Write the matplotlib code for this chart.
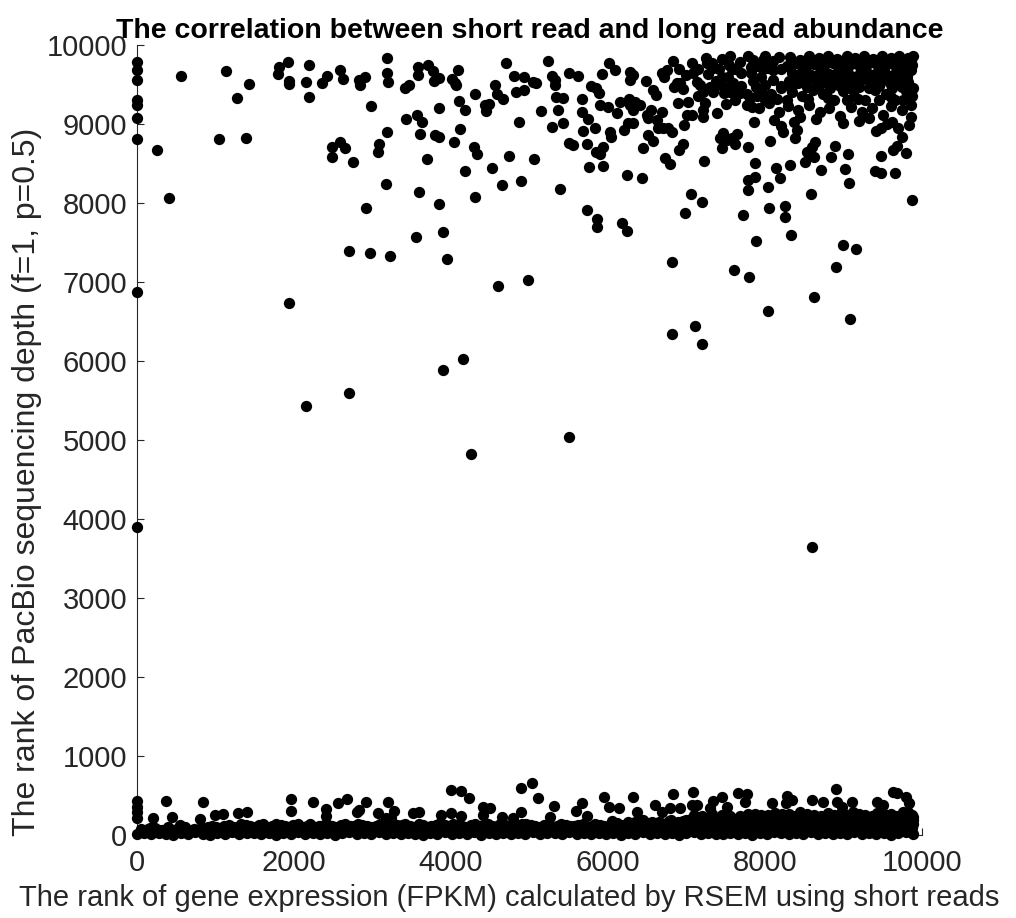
import matplotlib
matplotlib.use("Agg")
import matplotlib.pyplot as plt

# --- 상단 산점 (긴 read 순위가 높은 유전자) ---
upper_left = [
    (0, 9790), (0, 9684), (0, 9557), (0, 9304), (0, 9241), (0, 9076), (0, 8810),
    (0, 6873), (0, 3900),
    (260, 8671), (408, 8067), (561, 9612), (1049, 8810), (1138, 9671), (1270, 9333),
    (1393, 8823), (1427, 9502), (1796, 9637), (1809, 9726), (1924, 9781), (1930, 9548),
    (1930, 9506), (1932, 6730), (2153, 9527), (2187, 9747), (2187, 9346), (2357, 9515),
    (2420, 9612), (2484, 8713), (2484, 8578), (2590, 9684), (2628, 9574), (2590, 8776),
    (2654, 8700), (2701, 7397), (2752, 8515), (2824, 9557), (2841, 9494), (2909, 9599),
    (2921, 7932), (2968, 7363), (2985, 9224), (3066, 8650), (3079, 8747), (3176, 8236),
    (3180, 9831), (3180, 9650), (3202, 9536), (3180, 8895), (3219, 7325), (3418, 9460),
    (3469, 9494), (3427, 9063), (3563, 9110), (3631, 9030), (3584, 9726), (3584, 9620),
    (3601, 8869), (3597, 8139), (3558, 7570), (3690, 8553), (3703, 9747), (3766, 9671),
    (3783, 9544), (3843, 9578), (3800, 8857), (3843, 8831), (3843, 9198), (3851, 7983),
    (3898, 7629), (3953, 7291), (4008, 9566), (4051, 9523), (4085, 9688), (4064, 9494),
    (4034, 8776), (4119, 8932), (4106, 9295), (4178, 9177), (4183, 8409), (4289, 8713),
    (4336, 8616), (4306, 9380), (4306, 8080), (4433, 9241), (4488, 9249), (4450, 9169),
    (4527, 8443), (4565, 9494), (4582, 9380), (4658, 9312), (4595, 6945), (4654, 8228),
    (4705, 9768), (4743, 8591), (4803, 9612), (4824, 9401), (4926, 9426), (4866, 9030),
    (4892, 8275), (4934, 9599), (4985, 7025),
]

upper_mid = [
    (2150, 5430), (2700, 5600), (3900, 5880), (4150, 6020), (4250, 4820), (5500, 5040),
    (8600, 3640), (7200, 6220),
]

upper_right = [
    (5041, 9536), (5083, 9523), (5062, 8557), (5231, 9797), (5146, 9165), (5282, 9608),
    (5325, 9557), (5325, 9494), (5338, 9338), (5423, 9325), (5367, 9177), (5282, 8966),
    (5423, 9008), (5389, 8177), (5499, 9641), (5622, 9608), (5507, 8764), (5558, 8734),
    (5673, 9312), (5669, 9156), (5750, 9068), (5677, 8916), (5728, 8747), (5728, 7911),
    (5762, 8460), (5779, 9485), (5847, 9451), (5830, 8945), (5847, 8650), (5898, 8620),
    (5941, 8713), (5856, 7797), (5856, 7692), (5919, 9629), (5932, 8468), (5885, 9388),
    (5898, 9241), (6004, 9219), (6017, 9776), (6089, 9684), (6025, 8903), (6034, 8839),
    (6110, 9135), (6153, 9283), (6174, 7743), (6238, 7650), (6204, 8924), (6246, 8354),
    (6259, 9017), (6272, 9312), (6280, 9241), (6340, 9283), (6408, 9241), (6280, 9662),
    (6323, 9620), (6280, 9557), (6323, 9177), (6323, 9008), (6429, 8312), (6450, 8692),
    (6484, 9548), (6493, 9114), (6514, 9072), (6514, 8861), (6569, 8789), (6569, 9430),
    (6611, 9367), (6548, 9177), (6620, 9051), (6641, 8945), (6684, 9156), (6684, 9641),
    (6747, 9684), (6713, 9599), (6705, 8953), (6760, 8953), (6726, 8565), (6790, 8494),
    (6811, 7249), (6811, 8903), (6820, 6342), (6824, 9797), (6837, 9473), (6875, 9515),
    (6917, 9523), (6960, 9439), (6896, 9270), (6909, 8671), (6960, 8747), (6968, 8987),
    (6981, 7878), (7002, 9114), (7066, 9114), (7023, 9283), (7053, 8114), (7066, 9768),
    (7087, 9650), (7108, 6443), (7130, 9536), (7172, 9494), (7193, 8017), (7214, 9177),
    (7206, 9093), (7214, 9409), (7236, 9262), (7223, 8532), (7257, 9768), (7321, 9776),
    (7342, 9705), (7278, 9633), (7300, 9473), (7342, 9409), (7385, 9135), (7427, 8819),
    (7470, 8882), (7448, 8692), (7478, 9388), (7512, 8797), (7576, 8827), (7640, 8869),
    (7618, 8747), (7546, 9747), (7576, 9692), (7533, 9591), (7597, 9523), (7660, 9473),
    (7554, 9409), (7682, 9397), (7605, 7152), (7724, 7848), (7766, 9380), (7809, 9325),
    (7830, 9219), (7766, 9241), (7787, 8705), (7779, 8291), (7779, 8165), (7873, 8333),
    (7801, 7068), (7851, 9810), (7822, 9641), (7851, 9544), (7864, 9030), (7873, 8502),
    (7885, 7519), (7970, 9810), (8034, 8207), (8042, 9705), (8064, 8785), (8055, 7941),
    (8042, 6633), (8140, 8447), (8191, 8321), (8204, 8975), (8233, 8903), (8255, 7966),
    (8255, 7827), (8318, 8481), (8331, 7595), (8382, 8819), (8403, 8924), (8446, 9093),
    (8510, 8523), (8535, 8650), (8599, 8713), (8620, 8578), (8641, 8776), (8586, 8114),
    (8629, 6814), (8713, 8418), (8837, 8578), (8892, 8722), (8904, 7186), (8989, 7473),
    (9159, 7418), (9019, 8430), (9053, 8616), (9074, 8249), (9083, 6536), (9202, 9042),
    (9401, 8405), (9473, 8376), (9477, 8599), (9418, 8916), (9481, 8945), (9635, 8671),
    (9677, 8722), (9660, 8383), (9749, 8831), (9796, 8629), (9868, 8038), (9855, 9084),
    (9838, 8987), (9613, 9030),
]

# 오른쪽 위의 빽빽한 덩어리
upper_dense = [
    (8320, 9845), (8450, 9810), (8560, 9860), (8690, 9830), (8800, 9855), (8920, 9820),
    (9040, 9865), (9150, 9835), (9260, 9860), (9380, 9825), (9490, 9855), (9600, 9840),
    (9710, 9865), (9820, 9830), (9880, 9860),
    (8360, 9790), (8480, 9800), (8610, 9795), (8720, 9790), (8840, 9800), (8960, 9790),
    (9070, 9805), (9190, 9795), (9300, 9800), (9420, 9790), (9530, 9800), (9650, 9795),
    (9760, 9805), (9860, 9790),
    (8280, 9740), (8400, 9770), (8520, 9720), (8630, 9760), (8750, 9730), (8870, 9775),
    (8980, 9745), (9100, 9760), (9210, 9720), (9330, 9770), (9440, 9740), (9560, 9755),
    (9670, 9725), (9780, 9770), (9870, 9745),
    (8340, 9640), (8470, 9670), (8590, 9620), (8700, 9660), (8820, 9630), (8930, 9675),
    (9060, 9640), (9170, 9610), (9290, 9665), (9400, 9635), (9520, 9670), (9630, 9625),
    (9740, 9650), (9860, 9680),
    (8380, 9590), (8500, 9600), (8620, 9580), (8740, 9600), (8860, 9590), (8970, 9605),
    (9090, 9585), (9210, 9600), (9330, 9590), (9450, 9600), (9570, 9585), (9690, 9605),
    (9810, 9590),
    (8300, 9540), (8420, 9515), (8550, 9560), (8660, 9530), (8780, 9545), (8900, 9505),
    (9010, 9555), (9130, 9525), (9250, 9565), (9360, 9510), (9480, 9550), (9590, 9520),
    (9700, 9560), (9820, 9530),
    (8330, 9450), (8530, 9470), (8690, 9480), (8830, 9460), (8950, 9480), (9080, 9450),
    (9200, 9470), (9320, 9460), (9450, 9480), (9620, 9450), (9750, 9470), (9880, 9460),
    (7950, 9420), (8080, 9380), (8200, 9450), (8350, 9400), (8470, 9350), (8610, 9430),
    (8740, 9380), (8880, 9300), (9000, 9420), (9130, 9360), (9270, 9300), (9400, 9430),
    (9540, 9380), (9660, 9300), (9790, 9420), (9870, 9350),
    (8000, 9300), (8150, 9320), (8280, 9310), (8550, 9320), (8800, 9330), (9050, 9300),
    (9180, 9320), (9450, 9310), (9600, 9340), (9760, 9300),
    (7920, 9200), (8050, 9260), (8180, 9150), (8290, 9230), (8420, 9180), (8560, 9240),
    (8700, 9150), (8820, 9200), (8960, 9100), (9090, 9220), (9230, 9150), (9360, 9200),
    (9500, 9120), (9610, 9230), (9740, 9180), (9860, 9240),
    (8120, 9050), (8370, 9020), (8650, 9060), (8990, 9010), (9330, 9070), (9560, 9000),
    (9700, 8950),
    (7450, 9820), (7680, 9780), (7900, 9740), (8100, 9800), (8200, 9700), (7950, 9600),
    (8100, 9560), (8200, 9480), (7700, 9650), (7450, 9600), (8000, 9500), (7380, 9550),
    (7150, 9700), (7000, 9620), (6900, 9700),
    (8100, 9680), (7980, 9690), (7820, 9720), (7620, 9700), (7420, 9700), (7250, 9840),
    (7560, 9860), (7780, 9860), (8000, 9860), (8180, 9850),
    (7350, 9450), (7480, 9470), (7700, 9480), (7880, 9470), (7620, 9300), (7900, 9350),
    (7150, 9350), (7500, 9250),
]

# --- 하단 띠 (대부분의 유전자) ---
low_outliers = [
    (0, 435), (0, 359), (0, 295), (0, 211), (200, 211), (369, 430), (442, 224), (548, 127),
    (803, 203), (837, 418), (994, 253), (1100, 266), (1291, 274), (1397, 287), (1958, 452),
    (1958, 304), (2238, 414), (2408, 325), (2408, 241), (2565, 409), (2671, 452), (2798, 295),
    (2832, 316), (2913, 414), (3066, 274), (3172, 211), (3202, 414), (3278, 304), (3236, 211),
    (3520, 274), (3597, 295), (3873, 249), (4000, 570), (4123, 561), (4000, 274), (4123, 241),
    (4229, 465), (4412, 359), (4497, 338), (4412, 253), (4645, 224), (4794, 219), (4892, 599),
    (5036, 654), (4892, 295), (5113, 473), (5316, 367), (5261, 232), (5592, 304), (5665, 409),
    (5729, 241), (5949, 477), (6008, 359), (6144, 346), (6322, 477), (6365, 295), (6603, 376),
    (6684, 295), (6824, 515), (6790, 338), (7087, 549), (7066, 380), (7130, 380), (6917, 338),
    (7342, 435), (7448, 477), (7300, 338), (7660, 527), (7766, 519), (7745, 422), (7512, 359),
    (8085, 401), (8276, 494), (8340, 443), (8267, 401), (8594, 443), (8743, 422), (8904, 582),
    (8913, 422), (9104, 422), (8977, 359), (9423, 422), (9507, 380), (9635, 549), (9677, 527),
    (9796, 477), (9838, 409), (9825, 295), (9889, 190), (9868, 84),
]

band_row_a = [
    (0, 10), (90, 22), (180, 8), (280, 30), (370, 15), (460, 5), (560, 25), (650, 12),
    (740, 33), (840, 18), (930, 6), (1020, 28), (1120, 14), (1210, 35), (1300, 9), (1400, 20),
    (1490, 31), (1580, 11), (1680, 24), (1770, 4), (1860, 27), (1960, 16), (2050, 36),
    (2140, 8), (2240, 21), (2330, 13), (2420, 29), (2520, 6), (2610, 19), (2700, 34),
    (2800, 10), (2890, 23), (2980, 15), (3080, 32), (3170, 7), (3260, 26), (3360, 12),
    (3450, 30), (3540, 17), (3640, 5), (3730, 25), (3820, 14), (3920, 33), (4010, 9),
    (4100, 22), (4200, 18), (4290, 35), (4380, 6), (4480, 27), (4570, 13), (4660, 30),
    (4760, 10), (4850, 24), (4940, 16), (5040, 34), (5130, 7), (5220, 21), (5320, 29),
    (5410, 12), (5500, 36), (5600, 8), (5690, 25), (5780, 15), (5880, 31), (5970, 11),
    (6060, 23), (6160, 5), (6250, 28), (6340, 17), (6440, 33), (6530, 9), (6620, 26),
    (6720, 14), (6810, 30), (6900, 6), (7000, 22), (7090, 35), (7180, 12), (7280, 27),
    (7370, 18), (7460, 8), (7560, 31), (7650, 15), (7740, 24), (7840, 5), (7930, 29),
    (8020, 13), (8120, 34), (8210, 20), (8300, 9), (8400, 26), (8490, 16), (8580, 32),
    (8680, 7), (8770, 23), (8860, 11), (8960, 30), (9050, 18), (9140, 36), (9240, 8),
    (9330, 25), (9420, 14), (9520, 29), (9610, 6), (9700, 21), (9800, 33), (9880, 12),
]

band_row_b = [
    (45, 55), (135, 70), (230, 48), (320, 62), (415, 75), (510, 52), (600, 68), (700, 45),
    (790, 78), (885, 58), (975, 66), (1070, 50), (1165, 80), (1255, 60), (1350, 72),
    (1445, 47), (1535, 85), (1630, 63), (1720, 55), (1815, 77), (1910, 68), (2000, 50),
    (2095, 82), (2190, 61), (2285, 74), (2375, 56), (2470, 88), (2565, 64), (2655, 52),
    (2750, 79), (2845, 67), (2935, 58), (3030, 84), (3120, 49), (3215, 73), (3310, 62),
    (3405, 90), (3495, 55), (3590, 70), (3685, 48), (3775, 81), (3870, 65), (3965, 57),
    (4055, 86), (4150, 60), (4245, 75), (4335, 51), (4430, 83), (4525, 66), (4615, 58),
    (4710, 78), (4805, 62), (4895, 89), (4990, 54), (5085, 72), (5175, 64), (5270, 80),
    (5365, 50), (5455, 76), (5550, 67), (5645, 85), (5735, 59), (5830, 73), (5925, 55),
    (6015, 88), (6110, 63), (6205, 77), (6295, 52), (6390, 84), (6485, 69), (6575, 61),
    (6670, 90), (6765, 57), (6855, 79), (6950, 66), (7045, 74), (7135, 58), (7230, 87),
    (7325, 63), (7415, 80), (7510, 55), (7605, 76), (7695, 68), (7790, 89), (7885, 60),
    (7975, 82), (8070, 71), (8165, 56), (8255, 85), (8350, 64), (8445, 78), (8535, 59),
    (8630, 90), (8725, 67), (8815, 75), (8910, 62), (9005, 86), (9095, 70), (9190, 58),
    (9285, 83), (9375, 65), (9470, 79), (9565, 61), (9655, 88), (9750, 72), (9845, 66),
]

band_row_c = [
    (230, 90), (620, 80), (900, 95),
    (1000, 105), (1110, 120), (1220, 98), (1330, 135), (1440, 110), (1550, 128), (1660, 100),
    (1770, 140), (1880, 115), (1990, 125), (2100, 95), (2210, 138), (2320, 112), (2430, 130),
    (2540, 102), (2650, 145), (2760, 118), (2870, 127), (2980, 99), (3090, 136), (3200, 114),
    (3310, 124), (3420, 140), (3530, 104), (3640, 132), (3750, 117), (3860, 146), (3970, 108),
    (4080, 129), (4190, 97), (4300, 139), (4410, 121), (4520, 110), (4630, 143), (4740, 100),
    (4850, 126), (4960, 137), (5070, 112), (5180, 131), (5290, 103), (5400, 142), (5510, 119),
    (5620, 128), (5730, 98), (5840, 135), (5950, 116), (6060, 148), (6170, 125), (6280, 140),
    (6390, 113), (6500, 150), (6610, 132), (6720, 145), (6830, 120), (6940, 155), (7050, 138),
    (7160, 150), (7270, 128), (7380, 160), (7490, 142), (7600, 155), (7710, 130), (7820, 158),
    (7930, 140), (8040, 152), (8150, 135), (8260, 162), (8370, 145), (8480, 156), (8590, 132),
    (8700, 160), (8810, 148), (8920, 155), (9030, 138), (9140, 165), (9250, 145), (9360, 158),
    (9470, 136), (9580, 162), (9690, 150), (9800, 157), (9880, 140),
]

band_row_c2 = [
    (55, 70), (165, 85), (280, 62), (390, 95), (505, 78), (615, 100), (730, 72), (840, 88),
    (955, 110), (1060, 92), (1170, 130), (1280, 105), (1390, 122), (1500, 96), (1610, 135),
    (1720, 112), (1830, 128), (1940, 104), (2050, 140), (2160, 118), (2270, 100), (2380, 132),
    (2490, 115), (2600, 126), (2710, 108), (2820, 142), (2930, 120), (3040, 110), (3150, 133),
    (3260, 100), (3370, 128), (3480, 118), (3590, 145), (3700, 106), (3810, 130), (3920, 121),
    (4030, 138), (4140, 112), (4250, 126), (4360, 104), (4470, 140), (4580, 117), (4690, 130),
    (4800, 110), (4910, 145), (5020, 122), (5130, 100), (5240, 135), (5350, 115), (5460, 128),
    (5570, 108), (5680, 142), (5790, 120), (5900, 132), (6010, 112), (6120, 150), (6230, 130),
    (6340, 165), (6450, 140), (6560, 170), (6670, 150), (6780, 175), (6890, 160), (7000, 185),
    (7110, 170), (7220, 190), (7330, 175), (7440, 195), (7550, 180), (7660, 200), (7770, 185),
    (7880, 205), (7990, 188), (8100, 210), (8210, 192), (8320, 215), (8430, 195), (8540, 212),
    (8650, 198), (8760, 220), (8870, 200), (8980, 215), (9090, 195), (9200, 222), (9310, 205),
    (9420, 218), (9530, 200), (9640, 225), (9750, 208), (9860, 215),
]

band_row_d = [
    (6050, 175), (6250, 165), (6450, 185), (6650, 170), (6800, 195), (6950, 180), (7060, 205),
    (7170, 190), (7280, 215), (7390, 198), (7500, 220), (7610, 200), (7720, 225), (7830, 205),
    (7940, 218), (8050, 196), (8160, 228), (8270, 210), (8380, 222), (8490, 200), (8600, 230),
    (8710, 212), (8820, 225), (8930, 205), (9040, 232), (9150, 215), (9260, 226), (9370, 208),
    (9480, 235), (9590, 218), (9700, 228), (9810, 210), (9880, 225),
]

band_row_e = [
    (7100, 250), (7330, 265), (7560, 245), (7780, 270), (7950, 255), (8130, 280), (8300, 260),
    (8450, 285), (8620, 255), (8800, 275), (8960, 262), (9120, 290), (9280, 258), (9430, 280),
    (9600, 265), (9760, 285), (9870, 250),
    (7200, 240), (7450, 255), (7680, 238), (7870, 262), (8040, 248), (8220, 270), (8380, 245),
    (8540, 262), (8710, 240), (8880, 258), (9040, 248), (9200, 268), (9360, 242), (9520, 262),
    (9680, 245), (9820, 260),
]

TITLE = "The correlation between short read and long read abundance"
XLABEL = "The rank of gene expression (FPKM) calculated by RSEM using short reads"
YLABEL = "The rank of PacBio sequencing depth (f=1, p=0.5)"
X_TICKS = [0, 2000, 4000, 6000, 8000, 10000]
Y_TICKS = [0, 1000, 2000, 3000, 4000, 5000, 6000, 7000, 8000, 9000, 10000]

plt.rcParams["font.family"] = ["Liberation Sans", "DejaVu Sans"]

fig = plt.figure(figsize=(10.16, 9.18), dpi=100)
ax = fig.add_axes([137 / 1016, 83 / 918, 785 / 1016, 790 / 918])

groups = [upper_left, upper_mid, upper_right, upper_dense, low_outliers,
          band_row_a, band_row_b, band_row_c, band_row_c2, band_row_d, band_row_e]
for pts in groups:
    xs, ys = zip(*pts)
    ax.scatter(xs, ys, s=66, c="black", linewidths=0, clip_on=False, zorder=3)

ax.set_xlim(0, 10000)
ax.set_ylim(0, 10000)
ax.set_xticks(X_TICKS)
ax.set_yticks(Y_TICKS)

grey = "#262626"
for side in ["top", "right"]:
    ax.spines[side].set_visible(False)
for side in ["left", "bottom"]:
    ax.spines[side].set_color(grey)
    ax.spines[side].set_linewidth(0.8)
ax.tick_params(direction="in", length=5, width=0.8, color=grey,
               labelcolor=grey, labelsize=21)
ax.tick_params(axis="x", pad=10)
ax.tick_params(axis="y", pad=7)

ax.set_title(TITLE, fontsize=20.5, fontweight="bold", pad=5)
ax.set_xlabel(XLABEL, fontsize=21, color=grey)
ax.set_ylabel(YLABEL, fontsize=23, color=grey)
ax.xaxis.set_label_coords(0.474, -0.062)
ax.yaxis.set_label_coords(-0.121, 0.447)

fig.savefig("out.png", dpi=100)
